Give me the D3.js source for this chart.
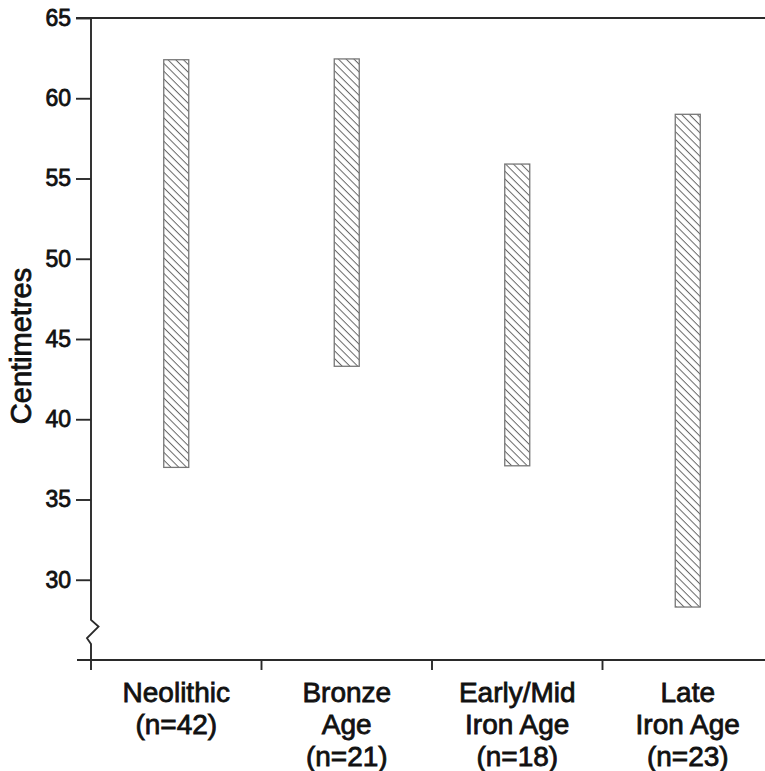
<!DOCTYPE html>
<html>
<head>
<meta charset="utf-8">
<script src="https://cdn.jsdelivr.net/npm/d3@7/dist/d3.min.js"></script>
<style>
  html, body { margin: 0; padding: 0; background: #fff; }
  svg { display: block; }
</style>
</head>
<body>
<script>
// Ranges of measurement (cm) for each period
const periods = ["Neolithic", "Bronze Age", "Early/Mid Iron Age", "Late Iron Age"];
const periodLabels = [
  ["Neolithic", "(n=42)"],
  ["Bronze", "Age", "(n=21)"],
  ["Early/Mid", "Iron Age", "(n=18)"],
  ["Late", "Iron Age", "(n=23)"]
];
const rangeLow = [37.0, 43.3, 37.1, 28.3];
const rangeHigh = [62.4, 62.45, 55.9, 59.0];
const yTicks = [30, 35, 40, 45, 50, 55, 60, 65];

const W = 765, H = 771;
const axisX = 91, plotTop = 18, plotBottom = 660;
const ink = "#2a2a2a";
const lineW = 1.9;

const svg = d3.select("body").append("svg")
  .attr("width", W).attr("height", H)
  .style("font-family", "'Liberation Sans', Arial, sans-serif");

// Diagonal hatch fill for the range bars
const defs = svg.append("defs");
const pat = defs.append("pattern")
  .attr("id", "hatch")
  .attr("patternUnits", "userSpaceOnUse")
  .attr("width", 5.5).attr("height", 5.5)
  .attr("patternTransform", "rotate(45)");
pat.append("rect").attr("width", 5.5).attr("height", 5.5).attr("fill", "#fff");
pat.append("line")
  .attr("x1", 0).attr("y1", 0).attr("x2", 5.5).attr("y2", 0)
  .attr("stroke", "#666").attr("stroke-width", 2);

const y = d3.scaleLinear().domain([25, 65]).range([plotBottom, plotTop]);
const x = d3.scaleBand().domain(periods).range([axisX, 773]).padding(0);

// Top frame line
svg.append("line")
  .attr("x1", 76).attr("x2", W).attr("y1", y(65)).attr("y2", y(65))
  .attr("stroke", ink).attr("stroke-width", lineW);

// x axis baseline
svg.append("line")
  .attr("x1", 77).attr("x2", W).attr("y1", plotBottom).attr("y2", plotBottom)
  .attr("stroke", ink).attr("stroke-width", lineW);

// y axis with a break near the bottom
const bTop = y(27.5), bBot = y(26.0);
const bMid1 = bTop + (bBot - bTop) * 0.28, bMid2 = bTop + (bBot - bTop) * 0.76;
svg.append("path")
  .attr("d", `M${axisX},${plotTop} V${bTop} L${axisX + 7.5},${bMid1} L${axisX - 4},${bMid2} L${axisX},${bBot} V${plotBottom + 10}`)
  .attr("fill", "none").attr("stroke", ink).attr("stroke-width", lineW);

// y ticks and labels
const yAxis = svg.append("g")
  .attr("transform", `translate(${axisX},0)`)
  .call(d3.axisLeft(y).tickValues(yTicks).tickSize(15).tickPadding(5).tickFormat(d3.format("d")));
yAxis.select(".domain").remove();
yAxis.selectAll(".tick line").attr("stroke", ink).attr("stroke-width", lineW);
yAxis.selectAll(".tick text")
  .attr("fill", "#111").attr("font-size", 23)
  .attr("font-family", "'Liberation Sans', Arial, sans-serif")
  .attr("stroke", "#111").attr("stroke-width", 0.8);

// Category boundary ticks below the x axis
svg.selectAll(".xtick").data(periods.slice(1)).enter().append("line")
  .attr("class", "xtick")
  .attr("x1", d => x(d)).attr("x2", d => x(d))
  .attr("y1", plotBottom).attr("y2", plotBottom + 10)
  .attr("stroke", ink).attr("stroke-width", lineW);

// Range bars
const barW = 25;
svg.selectAll(".bar").data(periods).enter().append("rect")
  .attr("class", "bar")
  .attr("x", d => x(d) + x.bandwidth() / 2 - barW / 2)
  .attr("width", barW)
  .attr("y", (d, i) => y(rangeHigh[i]))
  .attr("height", (d, i) => y(rangeLow[i]) - y(rangeHigh[i]))
  .attr("fill", "url(#hatch)")
  .attr("stroke", "#777").attr("stroke-width", 1.3);

// Category labels
const lab = svg.selectAll(".cat").data(periods).enter().append("text")
  .attr("class", "cat")
  .attr("text-anchor", "middle")
  .attr("font-size", 28)
  .attr("fill", "#111").attr("stroke", "#111").attr("stroke-width", 0.8);
lab.each(function(d, i) {
  const t = d3.select(this);
  periodLabels[i].forEach((line, k) => {
    t.append("tspan")
      .attr("x", x(d) + x.bandwidth() / 2)
      .attr("y", 702 + k * 32)
      .text(line);
  });
});

// y axis title
svg.append("text")
  .attr("transform", `translate(31,${346}) rotate(-90)`)
  .attr("text-anchor", "middle")
  .attr("font-size", 29)
  .attr("fill", "#111").attr("stroke", "#111").attr("stroke-width", 0.8)
  .text("Centimetres");
</script>
</body>
</html>
